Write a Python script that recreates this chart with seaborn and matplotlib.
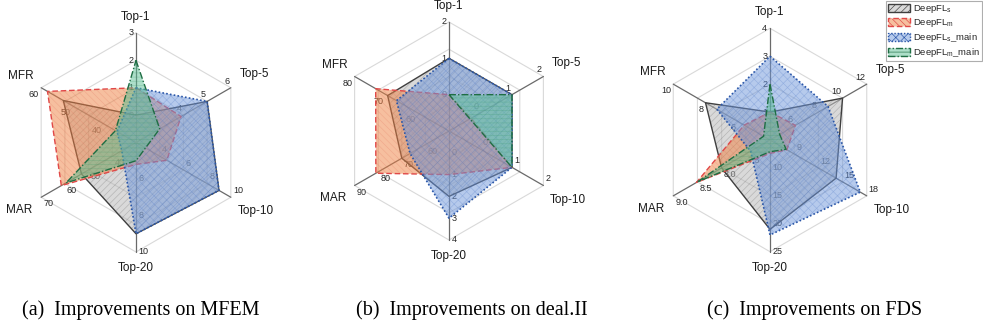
import numpy as np
import matplotlib
matplotlib.use("Agg")
import matplotlib.pyplot as plt
import matplotlib.patches as mpatches
from matplotlib.colors import to_rgba
import seaborn as sns

sns.set_theme(style="white")
plt.rcParams["font.family"] = ["Liberation Sans", "DejaVu Sans"]
plt.rcParams["hatch.linewidth"] = 0.45

axis_names = ["Top-1", "Top-5", "Top-10", "Top-20", "MAR", "MFR"]
axis_angles = [90, 30, -30, -90, 210, 150]

series_labels = [r"DeepFL$_\mathregular{s}$", r"DeepFL$_\mathregular{m}$",
                 r"DeepFL$_\mathregular{s}$_main", r"DeepFL$_\mathregular{m}$_main"]

# (a) MFEM: axis ranges (centre, outer, step) and values
mfem_lo = [-1, 2, 2, 4, 30, 30]
mfem_hi = [3, 6, 10, 10, 70, 60]
mfem_step = [1, 1, 2, 2, 10, 10]
mfem_s = [0, 5, 9, 9, 53, 53]
mfem_m = [1, 3.9, 4.6, 5.2, 61.5, 58]
mfem_s_main = [1, 5, 9, 9, 36, 36]
mfem_m_main = [2, 3, 2.8, 5, 59.5, 36.5]

# (b) deal.II
deal_lo = [-1, -1, -1, -1, 50, 50]
deal_hi = [2, 2, 2, 4, 90, 80]
deal_step = [1, 1, 1, 1, 10, 10]
deal_s = [1, 1, 1, 2, 70, 69.5]
deal_m = [0, -0.3, 1, 1, 81, 73.3]
deal_s_main = [1, 1, 1, 3, 66.5, 66.7]
deal_m_main = [0, 1, 1, np.nan, np.nan, np.nan]

# (c) FDS
fds_lo = [0, 4, 6, 5, 7.0, 4]
fds_hi = [4, 12, 18, 25, 9.0, 10]
fds_step = [1, 2, 3, 5, 0.5, 2]
fds_s = [1, 10, 14.2, 21, 8.0, 8.0]
fds_m = [1, 6.1, 8.1, 7.4, 8.52, 5.6]
fds_s_main = [3, 8.8, 17.2, 22, 7.4, 7.3]
fds_m_main = [2, 4.8, 8, 7.1, 8.5, 4.4]

styles = [
    dict(face="#b4b4b4", hatch="/////", hcol="#4d4d4d", edge="#3f3f3f", ls="-", lw=1.0),
    dict(face="#ef8040", hatch="\\\\\\\\\\", hcol="#e0705a", edge="#e04848", ls=(0, (4, 2)), lw=1.0),
    dict(face="#6e96da", hatch="xxxx", hcol="#3f6cc0", edge="#2a56a8", ls=(0, (1, 1.3)), lw=1.2),
    dict(face="#5cc095", hatch="----", hcol="#2f9460", edge="#1f6e44", ls=(0, (5, 1.5, 1, 1.5)), lw=1.0),
]

W, H = 983, 329
fig = plt.figure(figsize=(W / 100, H / 100), dpi=100)

charts = [
    (mfem_lo, mfem_hi, mfem_step, [mfem_s, mfem_m, mfem_s_main, mfem_m_main], (136, 142.5, 109.5)),
    (deal_lo, deal_hi, deal_step, [deal_s, deal_m, deal_s_main, deal_m_main], (449, 131, 109)),
    (fds_lo, fds_hi, fds_step, [fds_s, fds_m, fds_s_main, fds_m_main], (770, 140, 111.7)),
]

theta = np.deg2rad(axis_angles)
cos_t, sin_t = np.cos(theta), np.sin(theta)
label_r = [1.15, 1.25, 1.26, 1.15, 1.23, 1.21]
tick_place = [((-2, 0), "right", "center"), ((-1, 1.5), "right", "bottom"),
              ((1.5, 1.5), "left", "bottom"), ((2, 0), "left", "center"),
              ((1.5, -1.5), "left", "top"), ((-1.5, -1.5), "right", "top")]

k = 1.6
for lo, hi, step, series, (cx, cy, R) in charts:
    ax = fig.add_axes([(cx - k * R) / W, (H - cy - k * R) / H, 2 * k * R / W, 2 * k * R / H])
    ax.set_xlim(-k, k)
    ax.set_ylim(-k, k)
    ax.axis("off")

    # grid rings and spokes
    for rr in [0.25, 0.5, 0.75, 1.0]:
        ax.plot(np.append(rr * cos_t, rr * cos_t[0]), np.append(rr * sin_t, rr * sin_t[0]),
                color="#d9d9d9", lw=0.8, zorder=1)
    for i in range(6):
        ax.plot([0, cos_t[i]], [0, sin_t[i]], color="#6a6a6a", lw=0.9, zorder=1.5)
        ticks = np.arange(lo[i] + step[i], hi[i] + step[i] * 0.01, step[i])
        for t in ticks:
            r = (t - lo[i]) / (hi[i] - lo[i])
            txt = f"{t:.1f}" if step[i] < 1 else f"{t:g}"
            off, ha, va = tick_place[i]
            ax.annotate(txt, (r * cos_t[i], r * sin_t[i]), xytext=off, textcoords="offset points",
                        ha=ha, va=va, fontsize=6.5, color="#262626", zorder=1.8)
        ax.text(label_r[i] * cos_t[i], label_r[i] * sin_t[i], axis_names[i],
                ha="center", va="center", fontsize=8.5, color="#1a1a1a")

    for j, vals in enumerate(series):
        st = styles[j]
        v = np.asarray(vals, dtype=float)
        ok = ~np.isnan(v)
        r = (v - np.asarray(lo)) / (np.asarray(hi) - np.asarray(lo))
        x = (r * cos_t)[ok]
        y = (r * sin_t)[ok]
        z = 2 + j
        ax.fill(x, y, facecolor=st["face"], alpha=0.5, lw=0, zorder=z)
        ax.fill(x, y, facecolor="none", edgecolor=st["hcol"], hatch=st["hatch"], lw=0,
                alpha=0.28, zorder=z + 0.1)
        ax.plot(np.append(x, x[0]), np.append(y, y[0]), color=st["edge"], ls=st["ls"],
                lw=st["lw"], zorder=z + 0.2)

captions = ["(a)  Improvements on MFEM", "(b)  Improvements on deal.II", "(c)  Improvements on FDS"]
cap_x = [141, 472, 815]
for c, xx in zip(captions, cap_x):
    fig.text(xx / W, 1 - 310 / H, c, ha="center", va="center", fontsize=14.5,
             family=["Liberation Serif", "DejaVu Serif"], color="black")

handles = []
for st in styles:
    handles.append(mpatches.Patch(facecolor=to_rgba(st["face"], 0.5), edgecolor=st["edge"],
                                  hatch=st["hatch"], linestyle=st["ls"], lw=1.0))
leg = fig.legend(handles, series_labels, loc="upper right", bbox_to_anchor=(0.999, 0.996),
                 fontsize=6.8, handlelength=2.4, handleheight=1.0, labelspacing=0.22,
                 handletextpad=0.3, borderpad=0.2, borderaxespad=0, frameon=True,
                 fancybox=False, edgecolor="#9a9a9a")
leg.get_frame().set_linewidth(0.8)

fig.savefig("out.png", dpi=100)
